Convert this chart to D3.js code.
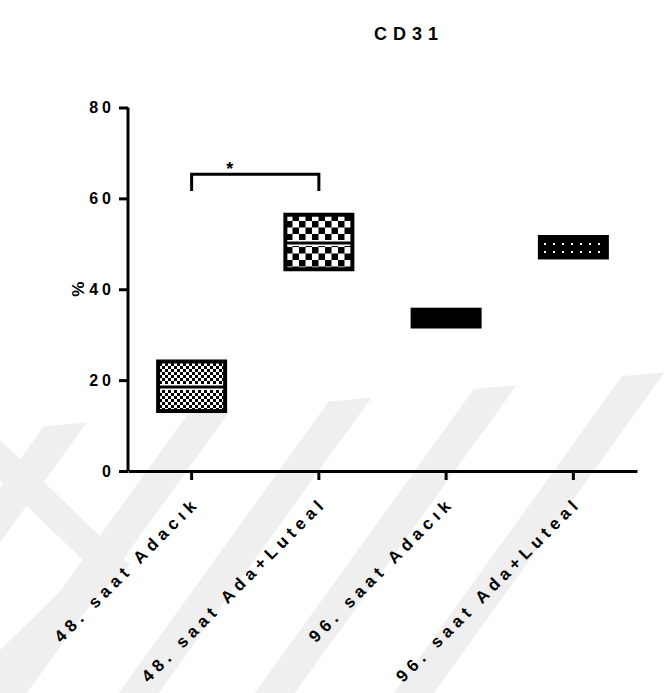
<!DOCTYPE html>
<html>
<head>
<meta charset="utf-8">
<script src="https://cdn.jsdelivr.net/npm/d3@7"></script>
<style>
  html, body { margin: 0; padding: 0; background: #fff; }
  svg { display: block; }
  text { font-family: "Liberation Sans", Arial, sans-serif; font-weight: bold; fill: #000; }
</style>
</head>
<body>
<svg id="chart" width="670" height="693"></svg>
<script>
// Groups on the x axis
const categories = ["48. saat Adacık", "48. saat Ada+Luteal", "96. saat Adacık", "96. saat Ada+Luteal"];
// Floating bars: lowest value, highest value and the line drawn across (mean)
const minValues  = [13.2, 44.4, 31.8, 47.0];
const maxValues  = [24.1, 56.4, 35.5, 51.5];
const meanValues = [18.5, 50.2, 33.5, 49.3];
// Fill style for each bar
const fills = ["checkFine", "checkCoarse", "solid", "dots"];
// Y axis ticks
const yTicks = [0, 20, 40, 60, 80];
// Significance bracket between the first two groups
const sigPairs = [{ from: 0, to: 1, label: "*", low: 61.6, high: 65.3 }];

const svg = d3.select("#chart");
const W = 670, H = 693;

// faint diagonal watermark bands in the lower part of the page
const wmClip = svg.append("clipPath").attr("id", "wmclip");
wmClip.append("path").attr("d", `M0,430 L${W},372 L${W},${H} L0,${H} Z`);
const wm = svg.append("g").attr("fill", "#efefef").attr("clip-path", "url(#wmclip)");
const bandBase = [-81, 54, 189, 321, 457, 596];   // band centre where it crosses y = 440
const slope = 0.72, bandW = 40;
wm.selectAll("path.band").data(bandBase).join("path").attr("class", "band")
  .attr("d", c => {
    const xt = c + (440 - 300) * slope, xb = c - (H - 440) * slope;
    return `M${xb - bandW / 2},${H} L${xb + bandW / 2},${H} L${xt + bandW / 2},300 L${xt - bandW / 2},300 Z`;
  });
svg.insert("path", "g").attr("fill", "#efefef")
  .attr("d", "M0,440 L130,565 L0,690 L0,650 L88,565 L0,480 Z");

const x = d3.scaleBand().domain(categories).range([128, 637]);
const y = d3.scaleLinear().domain([0, 80]).range([471, 107.5]);
const cx = d => x(d) + x.bandwidth() / 2;
const barW = 67;

// fill patterns
const defs = svg.append("defs");
function checker(id, c) {
  const p = defs.append("pattern").attr("id", id).attr("patternUnits", "userSpaceOnUse")
    .attr("width", 2 * c).attr("height", 2 * c);
  p.append("rect").attr("width", 2 * c).attr("height", 2 * c).attr("fill", "#fff");
  p.append("rect").attr("x", 0).attr("y", 0).attr("width", c).attr("height", c).attr("fill", "#000");
  p.append("rect").attr("x", c).attr("y", c).attr("width", c).attr("height", c).attr("fill", "#000");
}
checker("checkFine", 3);
checker("checkCoarse", 6.5);
const dp = defs.append("pattern").attr("id", "dots").attr("patternUnits", "userSpaceOnUse")
  .attr("width", 9).attr("height", 8);
dp.append("rect").attr("width", 9).attr("height", 8).attr("fill", "#000");
dp.append("rect").attr("x", 4).attr("y", 3).attr("width", 2).attr("height", 2).attr("fill", "#fff");

const fillOf = f => f === "solid" ? "#000" : `url(#${f})`;

// floating bars
const bars = svg.append("g").selectAll("g").data(categories).join("g");
bars.append("rect")
  .attr("x", d => cx(d) - barW / 2)
  .attr("y", (d, i) => y(maxValues[i]))
  .attr("width", barW)
  .attr("height", (d, i) => y(minValues[i]) - y(maxValues[i]))
  .attr("fill", (d, i) => fillOf(fills[i]))
  .attr("stroke", "#000").attr("stroke-width", 4);
bars.each(function(d, i) {
  if (!fills[i].startsWith("check")) return;
  const g = d3.select(this);
  const x0 = cx(d) - barW / 2, x1 = x0 + barW;
  g.append("line").attr("x1", x0 + 2).attr("x2", x1 - 2)
    .attr("y1", y(meanValues[i])).attr("y2", y(meanValues[i]))
    .attr("stroke", "#fff").attr("stroke-width", 6);
  g.append("line").attr("x1", x0).attr("x2", x1)
    .attr("y1", y(meanValues[i])).attr("y2", y(meanValues[i]))
    .attr("stroke", "#000").attr("stroke-width", 3);
});

// y axis
const yAxis = svg.append("g").attr("transform", "translate(128,0)")
  .call(d3.axisLeft(y).tickValues(yTicks).tickSize(9).tickPadding(8).tickFormat(d3.format("d")));
yAxis.select(".domain").attr("stroke-width", 3).attr("d", `M0,${y(80)}V${y(0)}`);
yAxis.selectAll(".tick line").attr("stroke-width", 3);
yAxis.selectAll(".tick text").attr("font-family", null).attr("font-size", null)
  .style("font-size", "16px").style("letter-spacing", "4px").attr("dx", "4");

// x axis
const xAxis = svg.append("g").attr("transform", `translate(0,${y(0)})`)
  .call(d3.axisBottom(x).tickSize(9).tickSizeOuter(0).tickFormat(""));
xAxis.select(".domain").attr("stroke-width", 3);
xAxis.selectAll(".tick line").attr("stroke-width", 3);

// rotated group labels, ending just below their tick
svg.append("g").selectAll("text").data(categories).join("text")
  .attr("transform", d => `translate(${cx(d) + 9},${y(0) + 33}) rotate(-45)`)
  .attr("text-anchor", "end")
  .style("font-size", "17px").style("letter-spacing", "5px")
  .text(d => d);

// significance bracket
sigPairs.forEach(s => {
  const xa = cx(categories[s.from]);
  const xb = cx(categories[s.to]);
  svg.append("path")
    .attr("d", `M${xa},${y(s.low)}V${y(s.high)}H${xb}V${y(s.low)}`)
    .attr("fill", "none").attr("stroke", "#000").attr("stroke-width", 3);
  svg.append("text").attr("x", xa + (xb - xa) * 0.3).attr("y", y(s.high) + 1)
    .attr("text-anchor", "middle").style("font-size", "18px").text(s.label);
});

// axis title and chart title
svg.append("text").attr("transform", `translate(84,${(y(0) + y(80)) / 2}) rotate(-90)`)
  .attr("text-anchor", "middle").style("font-size", "17px").text("%");
svg.append("text").attr("x", 409).attr("y", 40).attr("text-anchor", "middle")
  .style("font-size", "18px").style("letter-spacing", "6px").text("CD31");
</script>
</body>
</html>
